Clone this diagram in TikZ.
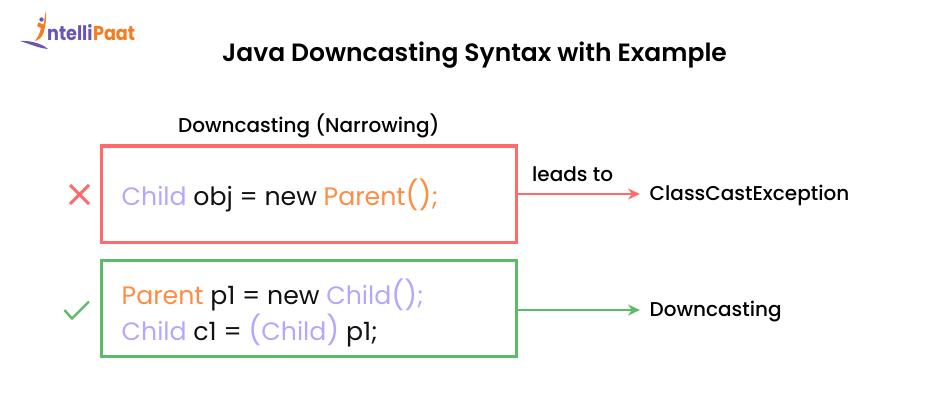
\documentclass[tikz,border=0pt]{standalone}
\usepackage{graphicx}
\usepackage{fontspec}
\setmainfont{Poppins}
\newfontfamily\semi{Poppins SemiBold}
\newfontfamily\medi{Poppins Medium}
\usetikzlibrary{arrows.meta}
\definecolor{redc}{HTML}{FF6B6B}
\definecolor{greenc}{HTML}{5CBB67}
\definecolor{lil}{HTML}{B3A8FF}
\definecolor{org}{HTML}{FF8C42}
\definecolor{ink}{HTML}{111111}
\definecolor{logop}{HTML}{6A55B5}
\definecolor{logoo}{HTML}{F57C1F}
\newcommand{\bigp}[1]{{\fontsize{28.5}{30}\selectfont\raisebox{-0.6pt}{#1}}}
\tikzset{
 lbl/.style={anchor=base west,inner sep=0pt,font=\medi\fontsize{20}{24}\selectfont,text=black},
 code/.style={anchor=base west,inner sep=0pt,font=\fontsize{25.2}{30}\selectfont,text=ink},
 box/.style={draw=#1,line width=3pt,outer sep=0pt,minimum width=415pt,minimum height=96pt,inner sep=0pt,anchor=north west},
 conn/.style={draw=#1,line width=2pt,-{Stealth[length=12pt,width=11pt]}},
}
\begin{document}
\begin{tikzpicture}[x=1pt,y=-1pt]
\useasboundingbox (0,0) rectangle (950,401);
% logo
\fill[logop] (20,41) .. controls (30,40.5) and (41,43) .. (48,49) .. controls (38,48) and (30,44) .. (20,41) -- cycle;
\fill[logop] (41.5,19.5) circle (2.2pt);
\fill[logoo] (46,10.5) .. controls (46.5,18) and (45.5,27) .. (43.5,33) .. controls (42,37) and (39,40) .. (35,41) .. controls (38,37) and (40,33) .. (41,28) -- (37,26) -- (38.5,22.5) -- (43.5,24.5) .. controls (44.5,20) and (45,15) .. (46,10.5) -- cycle;
\node[anchor=base west,inner sep=0pt,font=\fontsize{20}{24}\selectfont\bfseries,text=logop] (lgA) at (47,41) {\scalebox{0.88}[1]{ntelli}};
\node[anchor=base west,inner sep=0pt,font=\fontsize{20}{24}\selectfont\bfseries,text=logoo] (lgB) at (lgA.base east) {\scalebox{0.88}[1]{Paat}};
% title
\node[anchor=base,inner sep=0pt,font=\semi\fontsize{25}{28}\selectfont,text=black] (title) at (474.5,61.5) {Java Downcasting Syntax with Example};
\node[lbl] (head) at (178,132.5) {Downcasting (Narrowing)};
% boxes
\node[box=redc] (b1) at (101,146) {};
\node[box=greenc] (b2) at (101,260.5) {};
% code
\node[code] (c1) at (121.5,205) {\textcolor{lil}{Child} obj = new \textcolor{org}{Parent\bigp{()};}};
\node[code] (c2) at (121.5,304.5) {\textcolor{org}{Parent} p1 = new \textcolor{lil}{Child\bigp{()};}};
\node[code] (c3) at (121.5,340) {\textcolor{lil}{Child} c1 = \textcolor{lil}{\bigp{(}Child\bigp{)}} p1;};
% marks
\coordinate (xa) at (70,185); \coordinate (xb) at (89,204);
\coordinate (xc) at (89,185); \coordinate (xd) at (70,204);
\draw[redc,line width=3pt] (xa) -- (xb) (xc) -- (xd);
\coordinate (ka) at (64.5,310); \coordinate (kb) at (72,318.5); \coordinate (kc) at (89,301.5);
\draw[greenc,line width=2.4pt] (ka) -- (kb) -- (kc);
% targets
\node[lbl] (t1) at (649.5,200) {ClassCastException};
\node[lbl] (t2) at (649.5,316) {Downcasting};
\node[lbl] (t3) at (532,181) {leads to};
\coordinate (e1) at (640,194);
\coordinate (e2) at (640,310);
\draw[conn=redc] (b1.east |- e1) -- (e1);
\draw[conn=greenc] (b2.east |- e2) -- (e2);
\end{tikzpicture}
\end{document}
